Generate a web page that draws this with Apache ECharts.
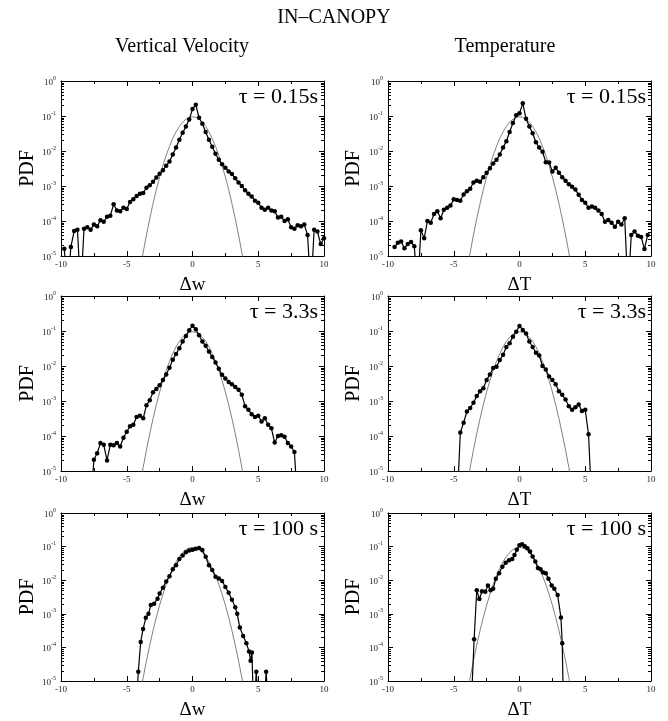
<!DOCTYPE html>
<html><head><meta charset="utf-8">
<script src="https://cdn.jsdelivr.net/npm/echarts@6/dist/echarts.min.js"></script>
<style>html,body{margin:0;padding:0;background:#fff}#c{width:668px;height:721px}</style>
</head><body><div id="c"></div>
<script>
const FIG_TITLE = 'IN–CANOPY';
const COL_TITLES = ['Vertical Velocity', 'Temperature'];
const X_NAMES = ['Δw', 'ΔT'];
const TAU_LABELS = ['τ = 0.15s', 'τ = 3.3s', 'τ = 100 s'];
const Y_MINOR_TICKS = [
  2e-5,3e-5,4e-5,5e-5,6e-5,7e-5,8e-5,9e-5,
  2e-4,3e-4,4e-4,5e-4,6e-4,7e-4,8e-4,9e-4,
  2e-3,3e-3,4e-3,5e-3,6e-3,7e-3,8e-3,9e-3,
  2e-2,3e-2,4e-2,5e-2,6e-2,7e-2,8e-2,9e-2,
  0.2,0.3,0.4,0.5,0.6,0.7,0.8,0.9];

// Gaussian reference curve
const GAUSS_X = [-4,-3.75,-3.5,-3.25,-3,-2.75,-2.5,-2.25,-2,-1.75,-1.5,-1.25,-1,-0.75,-0.5,-0.25,0,0.25,0.5,0.75,1,1.25,1.5,1.75,2,2.25,2.5,2.75,3,3.25,3.5,3.75,4];
const GAUSS_Y = [3.7e-6,1.27e-5,4.03e-5,1.17e-4,3.15e-4,7.85e-4,1.81e-3,3.83e-3,7.51e-3,1.36e-2,2.28e-2,3.53e-2,5.04e-2,6.65e-2,8.11e-2,9.13e-2,9.5e-2,9.13e-2,8.11e-2,6.65e-2,5.04e-2,3.53e-2,2.28e-2,1.36e-2,7.51e-3,3.83e-3,1.81e-3,7.85e-4,3.15e-4,1.17e-4,4.03e-5,1.27e-5,3.7e-6];

// Vertical velocity, tau = 0.15 s
const W1_X = [-9.75,-9.5,-9.25,-9,-8.75,-8.5,-8.25,-8,-7.75,-7.5,-7.25,-7,-6.75,-6.5,-6.25,-6,-5.75,-5.5,-5.25,-5,-4.75,-4.5,-4.25,-4,-3.75,-3.5,-3.25,-3,-2.75,-2.5,-2.25,-2,-1.75,-1.5,-1.25,-1,-0.75,-0.5,-0.25,0,0.25,0.5,0.75,1,1.25,1.5,1.75,2,2.25,2.5,2.75,3,3.25,3.5,3.75,4,4.25,4.5,4.75,5,5.25,5.5,5.75,6,6.25,6.5,6.75,7,7.25,7.5,7.75,8,8.25,8.5,8.75,9,9.25,9.5,9.75,10];
const W1_Y = [1.6e-5,1e-6,1.8e-5,5.2e-5,5.6e-5,1e-6,6.0e-5,6.6e-5,5.6e-5,7.9e-5,
  7.1e-5,1.05e-4,9.5e-5,1.32e-4,1.41e-4,3.0e-4,2.0e-4,1.9e-4,2.4e-4,2.2e-4,
  3.5e-4,4.2e-4,5.2e-4,6.0e-4,6.3e-4,8.9e-4,1.05e-3,1.32e-3,1.74e-3,2.24e-3,
  2.8e-3,3.8e-3,5.0e-3,7.9e-3,1.26e-2,2.1e-2,3.3e-2,5.0e-2,7.9e-2,1.58e-1,
  2.1e-1,8.9e-2,6.0e-2,3.5e-2,2.1e-2,1.32e-2,8.3e-3,5.6e-3,4.2e-3,3.3e-3,
  2.6e-3,2.2e-3,1.66e-3,1.26e-3,1.0e-3,7.6e-4,6.0e-4,5.0e-4,3.8e-4,3.3e-4,
  2.4e-4,2.1e-4,2.4e-4,2.0e-4,1.9e-4,1.26e-4,1.32e-4,1.0e-4,1.12e-4,6.6e-5,
  6.0e-5,7.6e-5,7.1e-5,7.9e-5,4.0e-5,1e-6,5.6e-5,5.0e-5,2.2e-5,3.2e-5];

// Temperature, tau = 0.15 s
const T1_X = [-9.5,-9.25,-9,-8.75,-8.5,-8.25,-8,-7.75,-7.5,-7.25,-7,-6.75,-6.5,-6.25,-6,-5.75,-5.5,-5.25,-5,-4.75,-4.5,-4.25,-4,-3.75,-3.5,-3.25,-3,-2.75,-2.5,-2.25,-2,-1.75,-1.5,-1.25,-1,-0.75,-0.5,-0.25,0,0.25,0.5,0.75,1,1.25,1.5,1.75,2,2.25,2.5,2.75,3,3.25,3.5,3.75,4,4.25,4.5,4.75,5,5.25,5.5,5.75,6,6.25,6.5,6.75,7,7.25,7.5,7.75,8,8.25,8.5,8.75,9,9.25,9.5,9.75];
const T1_Y = [1.8e-5,2.4e-5,2.6e-5,1.66e-5,2.2e-5,2.5e-5,1.9e-5,1e-6,5.4e-5,3.2e-5,
  1.0e-4,8.9e-5,1.58e-4,1.9e-4,1.2e-4,2.1e-4,2.4e-4,2.75e-4,4.2e-4,4.0e-4,
  3.8e-4,5.75e-4,7.1e-4,8.3e-4,1.26e-3,1.41e-3,1.32e-3,1.78e-3,2.4e-3,3.2e-3,
  4.4e-3,5.6e-3,7.9e-3,1.26e-2,1.9e-2,3.5e-2,6.3e-2,1.05e-1,1.2e-1,2.3e-1,
  8.3e-2,5.0e-2,3.2e-2,1.78e-2,1.26e-2,9.5e-3,4.8e-3,4.7e-3,2.6e-3,3.3e-3,
  2.4e-3,1.78e-3,1.41e-3,1.12e-3,9.5e-4,7.9e-4,5.6e-4,4.0e-4,3.3e-4,2.4e-4,
  2.6e-4,2.4e-4,2.0e-4,1.58e-4,9.5e-5,1.07e-4,8.9e-5,6.9e-5,9.5e-5,7.9e-5,
  1.2e-4,1e-6,4.0e-5,5.0e-5,3.8e-5,3.5e-5,1.58e-5,4.0e-5];

// Vertical velocity, tau = 3.3 s
const W2_X = [-7.75,-7.5,-7.25,-7,-6.75,-6.5,-6.25,-6,-5.75,-5.5,-5.25,-5,-4.75,-4.5,-4.25,-4,-3.75,-3.5,-3.25,-3,-2.75,-2.5,-2.25,-2,-1.75,-1.5,-1.25,-1,-0.75,-0.5,-0.25,0,0.25,0.5,0.75,1,1.25,1.5,1.75,2,2.25,2.5,2.75,3,3.25,3.5,3.75,4,4.25,4.5,4.75,5,5.25,5.5,5.75,6,6.25,6.5,6.75,7,7.25,7.5,7.75,8];
const W2_Y = [1e-6,2.1e-5,3.2e-5,6.3e-5,5.6e-5,2.0e-5,5.6e-5,5.4e-5,6.3e-5,5.0e-5,
  8.9e-5,1.32e-4,1.9e-4,2.1e-4,3.5e-4,3.8e-4,3.2e-4,7.6e-4,1.05e-3,1.78e-3,
  2.2e-3,2.8e-3,4.0e-3,5.75e-3,8.9e-3,1.51e-2,2.2e-2,3.2e-2,5.0e-2,7.2e-2,
  1.05e-1,1.41e-1,1.12e-1,7.6e-2,5.0e-2,3.8e-2,2.6e-2,1.82e-2,1.26e-2,8.3e-3,
  5.6e-3,4.4e-3,3.5e-3,3.0e-3,2.5e-3,2.1e-3,1.51e-3,7.1e-4,5.6e-4,4.2e-4,
  3.5e-4,3.8e-4,2.6e-4,3.2e-4,2.1e-4,1.66e-4,6.5e-5,1.0e-4,1.05e-4,9.5e-5,
  6.3e-5,5.0e-5,3.5e-5,1e-6];

// Temperature, tau = 3.3 s
const T2_X = [-4.75,-4.5,-4.25,-4,-3.75,-3.5,-3.25,-3,-2.75,-2.5,-2.25,-2,-1.75,-1.5,-1.25,-1,-0.75,-0.5,-0.25,0,0.25,0.5,0.75,1,1.25,1.5,1.75,2,2.25,2.5,2.75,3,3.25,3.5,3.75,4,4.25,4.5,4.75,5,5.25,5.5];
const T2_Y = [1e-6,1.26e-4,2.4e-4,5.0e-4,6.3e-4,8.9e-4,1.38e-3,1.9e-3,2.3e-3,4.0e-3,
  5.75e-3,8.7e-3,9.5e-3,1.48e-2,2.1e-2,3.5e-2,4.5e-2,6.9e-2,9.5e-2,1.38e-1,
  1.07e-1,8.5e-2,5.0e-2,3.5e-2,2.4e-2,2.0e-2,1.0e-2,7.9e-3,5.0e-3,4.0e-3,
  3.0e-3,1.9e-3,1.51e-3,1.1e-3,7.1e-4,5.6e-4,6.6e-4,7.9e-4,5.2e-4,5.6e-4,
  1.12e-4,1e-6];

// Vertical velocity, tau = 100 s
const W3_X = [-4.3,-4.12,-3.94,-3.76,-3.55,-3.35,-3.17,-2.92,-2.66,-2.5,-2.25,-2,-1.75,-1.5,-1.25,-1,-0.75,-0.5,-0.25,0,0.25,0.5,0.75,1,1.25,1.5,1.75,2,2.25,2.5,2.75,3,3.25,3.4,3.6,3.85,4.1,4.3,4.42,4.52,4.65,4.85,5.05,5.4,5.6,5.8];
const W3_Y = [1e-6,1.9e-5,1.45e-4,3.5e-4,7.6e-4,1.0e-3,1.82e-3,2.0e-3,2.8e-3,4.0e-3,
  6.0e-3,9.1e-3,1.32e-2,2.1e-2,2.8e-2,4.3e-2,5.4e-2,6.8e-2,7.6e-2,8.1e-2,
  8.7e-2,9.1e-2,7.9e-2,5.0e-2,2.8e-2,2.0e-2,1.26e-2,1.12e-2,9.5e-3,6.3e-3,
  4.2e-3,2.6e-3,1.58e-3,1.0e-3,3.9e-4,2.2e-4,1.32e-4,7.6e-5,4.0e-5,7.1e-5,
  1e-6,1.9e-5,1e-6,1e-6,1.9e-5,1e-6];

// Temperature, tau = 100 s
const T3_X = [-3.7,-3.45,-3.25,-3.05,-2.85,-2.6,-2.4,-2.2,-2,-1.8,-1.55,-1.3,-1.05,-0.8,-0.55,-0.38,-0.2,0,0.2,0.4,0.6,0.8,1,1.2,1.4,1.6,1.8,2,2.2,2.45,2.65,2.9,3.15,3.25,3.35];
const T3_Y = [1e-6,1.74e-4,5.0e-3,2.75e-3,4.7e-3,4.5e-3,6.9e-3,5.0e-3,5.6e-3,1.1e-2,
  1.62e-2,2.5e-2,3.3e-2,3.9e-2,4.3e-2,5.6e-2,8.1e-2,1.1e-1,1.17e-1,1.02e-1,
  8.9e-2,7.1e-2,5.1e-2,3.6e-2,2.3e-2,2.1e-2,1.7e-2,1.62e-2,1.1e-2,6.9e-3,
  5.6e-3,3.6e-3,7.8e-4,1.32e-4,1e-6];

const PANELS = [
  [W1_X, W1_Y], [T1_X, T1_Y],
  [W2_X, W2_Y], [T2_X, T2_Y],
  [W3_X, W3_Y], [T3_X, T3_Y]
];

const pairs = (xs, ys) => xs.map((x, i) => [x, ys[i]]);
const SERIF = 'Liberation Serif, Times New Roman, serif';
const ROW_TOP = [81, 296, 513];
const COL_LEFT = [61, 388];
const GW = 263, GH = 175;

const grid = [], xAxis = [], yAxis = [], series = [];
const title = [
  { text: FIG_TITLE, left: 'center', top: 3, textStyle: { fontSize: 20, fontWeight: 'normal', fontFamily: SERIF, color: '#000' } },
  { text: COL_TITLES[0], left: 177, textAlign: 'center', top: 32, textStyle: { fontSize: 20, fontWeight: 'normal', fontFamily: SERIF, color: '#000' } },
  { text: COL_TITLES[1], left: 500, textAlign: 'center', top: 32, textStyle: { fontSize: 20, fontWeight: 'normal', fontFamily: SERIF, color: '#000' } }
];

for (let g = 0; g < 6; g++) {
  const r = Math.floor(g / 2), c = g % 2;
  grid.push({ left: COL_LEFT[c], top: ROW_TOP[r], width: GW, height: GH });
  const lineStyle = { color: '#000', width: 1 };
  xAxis.push({
    gridIndex: g, type: 'value', min: -10, max: 10, interval: 5, position: 'bottom',
    axisLine: { show: true, onZero: false, lineStyle },
    axisTick: { show: true, inside: true, length: 5, lineStyle },
    minorTick: { show: true, splitNumber: 2, length: 3, lineStyle },
    splitLine: { show: false },
    axisLabel: { fontSize: 9, fontFamily: SERIF, color: '#222', margin: 4 },
    name: X_NAMES[c], nameLocation: 'middle', nameGap: 20,
    nameTextStyle: { fontSize: 19, fontFamily: SERIF, color: '#000' }
  });
  xAxis.push({
    gridIndex: g, type: 'value', min: -10, max: 10, interval: 5, position: 'top',
    axisLine: { show: true, onZero: false, lineStyle },
    axisTick: { show: true, inside: true, length: 5, lineStyle },
    minorTick: { show: true, splitNumber: 2, length: 3, lineStyle },
    splitLine: { show: false }, axisLabel: { show: false }
  });
  yAxis.push({
    gridIndex: g, type: 'log', logBase: 10, min: 1e-5, max: 1, splitNumber: 5, position: 'left',
    axisLine: { show: true, onZero: false, lineStyle },
    axisTick: { show: true, inside: true, length: 5, lineStyle },
    splitLine: { show: false },
    axisLabel: {
      margin: 5, color: '#222',
      formatter: v => '{b|10}{s|' + Math.round(Math.log10(v)) + '}',
      rich: {
        b: { fontSize: 9, fontFamily: SERIF, color: '#222', verticalAlign: 'bottom', lineHeight: 12 },
        s: { fontSize: 6, fontFamily: SERIF, color: '#222', verticalAlign: 'bottom', lineHeight: 12, padding: [0, 0, 6, 0] }
      }
    },
    name: 'PDF', nameLocation: 'middle', nameGap: c === 0 ? 23 : 24,
    nameTextStyle: { fontSize: 20, fontFamily: SERIF, color: '#000' }
  });
  yAxis.push({
    gridIndex: g, type: 'log', logBase: 10, min: 1e-5, max: 1, splitNumber: 5, position: 'right',
    axisLine: { show: true, onZero: false, lineStyle },
    axisTick: { show: true, inside: true, length: 5, lineStyle },
    splitLine: { show: false }, axisLabel: { show: false }
  });
  const xi = 2 * g, yi = 2 * g;
  series.push({
    type: 'custom', xAxisIndex: xi, yAxisIndex: yi, silent: true, clip: false, z: 1,
    data: Y_MINOR_TICKS.map(v => [0, v]),
    renderItem: (params, api) => {
      const p = api.coord([0, api.value(1)]);
      const cs = params.coordSys;
      const y = Math.round(p[1]) + 0.5;
      return { type: 'group', children: [
        { type: 'line', shape: { x1: cs.x, y1: y, x2: cs.x + 3, y2: y }, style: { stroke: '#000', lineWidth: 1 } },
        { type: 'line', shape: { x1: cs.x + cs.width - 3, y1: y, x2: cs.x + cs.width, y2: y }, style: { stroke: '#000', lineWidth: 1 } }
      ] };
    }
  });
  series.push({
    type: 'line', xAxisIndex: xi, yAxisIndex: yi, data: pairs(GAUSS_X, GAUSS_Y),
    showSymbol: false, smooth: false, clip: true, silent: true, z: 2,
    lineStyle: { color: '#808080', width: 1 }
  });
  series.push({
    type: 'line', xAxisIndex: xi, yAxisIndex: yi, data: pairs(PANELS[g][0], PANELS[g][1]),
    symbol: 'circle', symbolSize: 4.5, showSymbol: true, clip: true, silent: true, z: 3,
    itemStyle: { color: '#000' }, lineStyle: { color: '#000', width: 1.2 }
  });
  title.push({
    text: TAU_LABELS[r], right: c === 0 ? 345 : 17, top: ROW_TOP[r],
    textStyle: { fontSize: 22, fontWeight: 'normal', fontFamily: SERIF, color: '#000' }
  });
}

const chart = echarts.init(document.getElementById('c'), null, { renderer: 'canvas' });
chart.setOption({ animation: false, backgroundColor: '#fff', title, grid, xAxis, yAxis, series });
</script>
</body></html>
